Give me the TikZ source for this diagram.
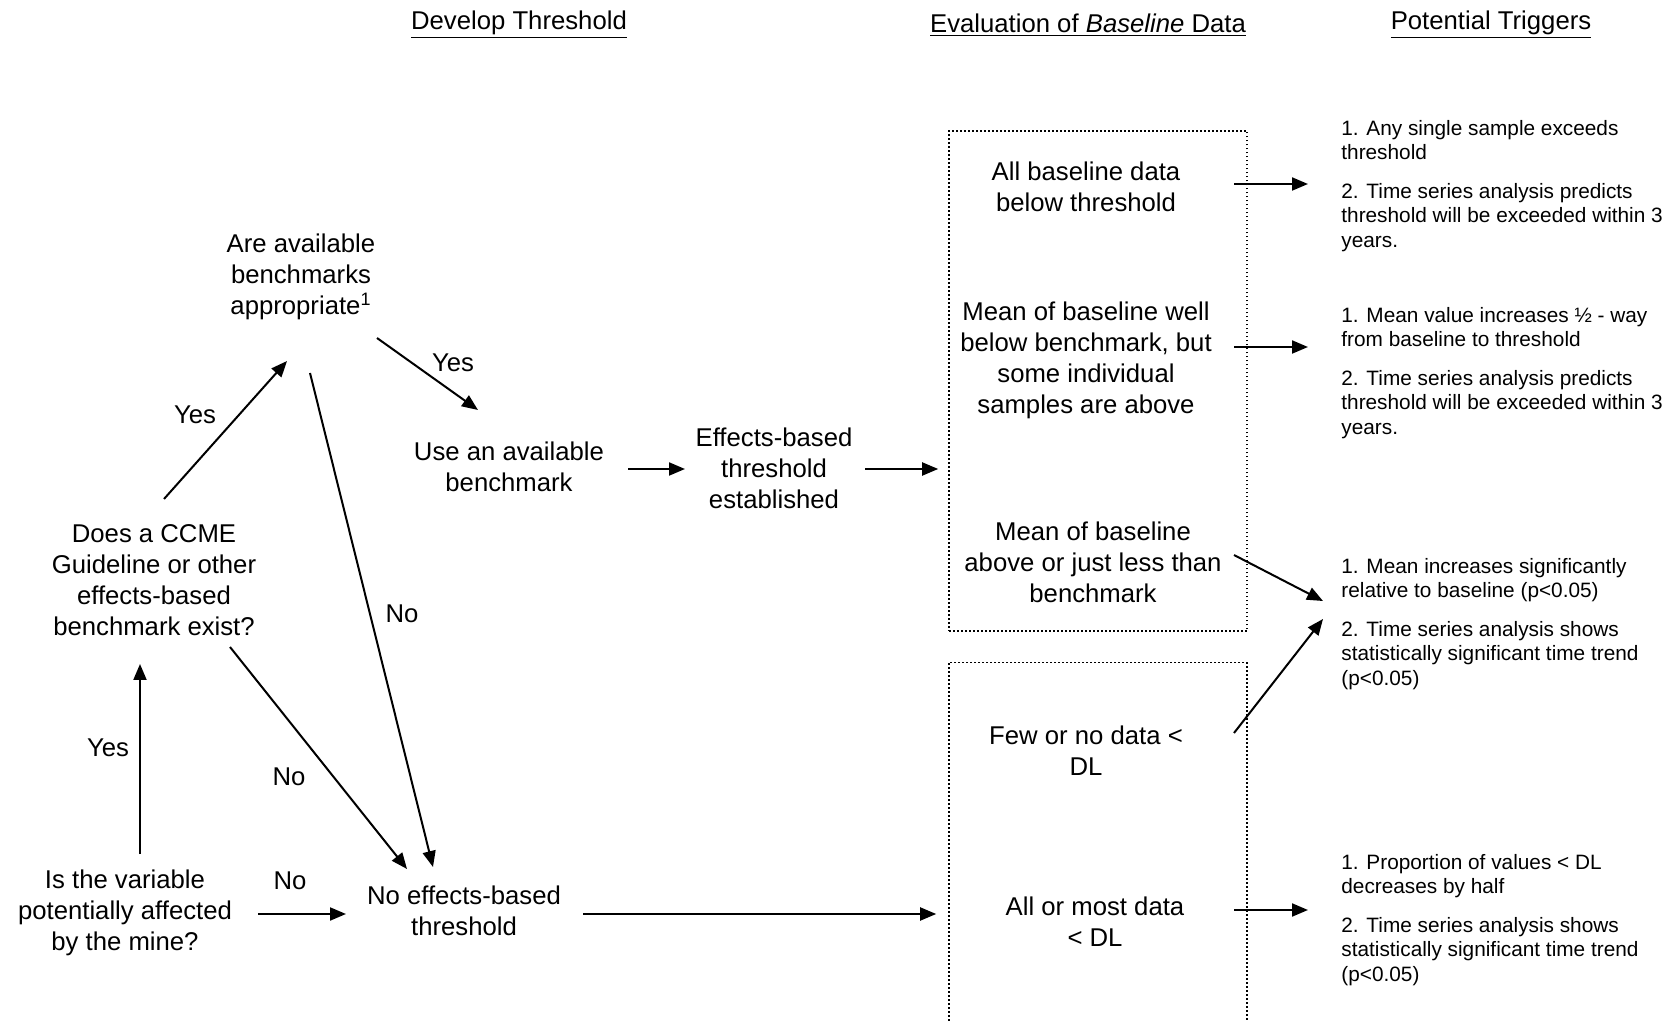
\documentclass[tikz,border=0pt]{standalone}
\usepackage{fontspec}
\setmainfont{Liberation Sans}
\usetikzlibrary{arrows.meta,calc}
\begin{document}
\begin{tikzpicture}[x=0.5pt,y=-0.5pt,
  every node/.style={font=\fontsize{12.85pt}{15.5pt}\selectfont, inner sep=0pt, align=center},
  trig/.style={font=\fontsize{10.4pt}{12.3pt}\selectfont, align=left, anchor=west},
  arr/.style={line width=1pt, -{Triangle[length=8pt,width=6.5pt]}},
  dotbox/.style={draw, line width=0.8pt, dash pattern=on 0.8pt off 1.2pt, minimum width=149pt}]
\clip (0,0) rectangle (1678,1021);
\fill[white] (0,0) rectangle (1678,1021);

% headers
\node (hdr1) at (519,25) {\underline{Develop Threshold}};
\node (hdr2) at (1088,25) {\underline{Evaluation of \textit{Baseline} Data}};
\node (hdr3) at (1491,25) {\underline{Potential Triggers}};

% left column
\node (are) at (301,277) {Are available\\benchmarks\\appropriate\textsuperscript{1}};
\node (does) at (154,580) {Does a CCME\\Guideline or other\\effects-based\\benchmark exist?};
\node (isvar) at (125,913) {Is the variable\\potentially affected\\by the mine?};
\node (noeff) at (464,911) {No effects-based\\threshold};
\node (use) at (509,467) {Use an available\\benchmark};
\node (eff) at (774,468) {Effects-based\\threshold\\established};

% labels
\node (yes1) at (195,415) {Yes};
\node (yes2) at (453,363) {Yes};
\node (no1) at (402,614) {No};
\node (yes3) at (108,748) {Yes};
\node (no2) at (289,777) {No};
\node (no3) at (290,881) {No};

% dotted boxes
\node[dotbox, minimum height=250.25pt] (box1) at (1098,381) {};
\node[dotbox, minimum height=199.5pt] (box2) at (1098,862) {};

\node (b1) at (1086,187) {All baseline data\\below threshold};
\node (b2) at (1086,360) {Mean of baseline well\\below benchmark, but\\some individual\\samples are above};
\node (b3) at (1093,562) {Mean of baseline\\above or just less than\\benchmark};
\node (b4) at (1086,750.5) {Few or no data <\\DL};
\node (b5) at (1095,922) {All or most data\\< DL};

% triggers
\node[trig] (t1) at (1341,186) {1. Any single sample exceeds\\threshold\\[7pt]2. Time series analysis predicts\\threshold will be exceeded within 3\\years.};
\node[trig] (t2) at (1341,373) {1. Mean value increases ½ - way\\from baseline to threshold\\[7pt]2. Time series analysis predicts\\threshold will be exceeded within 3\\years.};
\node[trig] (t3) at (1341,624) {1. Mean increases significantly\\relative to baseline (p<0.05)\\[7pt]2. Time series analysis shows\\statistically significant time trend\\(p<0.05)};
\node[trig] (t4) at (1341,920) {1. Proportion of values < DL\\decreases by half\\[7pt]2. Time series analysis shows\\statistically significant time trend\\(p<0.05)};

% connectors
\draw[arr] ($(does)+(10,-81)$) -- ($(are)+(-14,84)$);
\draw[arr] ($(are)+(76,61)$) -- ($(use)+(-31,-57)$);
\draw[arr] ($(are)+(9,96)$) -- ($(noeff)+(-31,-44)$);
\draw[arr] ($(isvar)+(15,-59)$) -- ($(does)+(-14,84)$);
\draw[arr] ($(does)+(76,67)$) -- ($(noeff)+(-57,-42)$);
\draw[arr] ($(isvar)+(133,1)$) -- ($(noeff)+(-118,3)$);
\draw[arr] ($(use)+(119,2)$) -- ($(eff)+(-89,1)$);
\draw[arr] ($(eff)+(91,1)$) -- ($(box1.west |- eff)+(-10,1)$);
\draw[arr] ($(noeff)+(119,3)$) -- ($(box2.west |- noeff)+(-12,3)$);
\draw[arr] ($(b1)+(148,-3)$) -- ($(t1.west)+(-33,-2)$);
\draw[arr] ($(b2)+(148,-13)$) -- ($(t2.west)+(-33,-26)$);
\draw[arr] ($(b3)+(141,-7)$) -- ($(t3.west)+(-18,-23)$);
\draw[arr] ($(b4)+(148,-17.5)$) -- ($(t3.west)+(-18,-5)$);
\draw[arr] ($(b5)+(139,-12)$) -- ($(t4.west)+(-33,-10)$);
\end{tikzpicture}
\end{document}
